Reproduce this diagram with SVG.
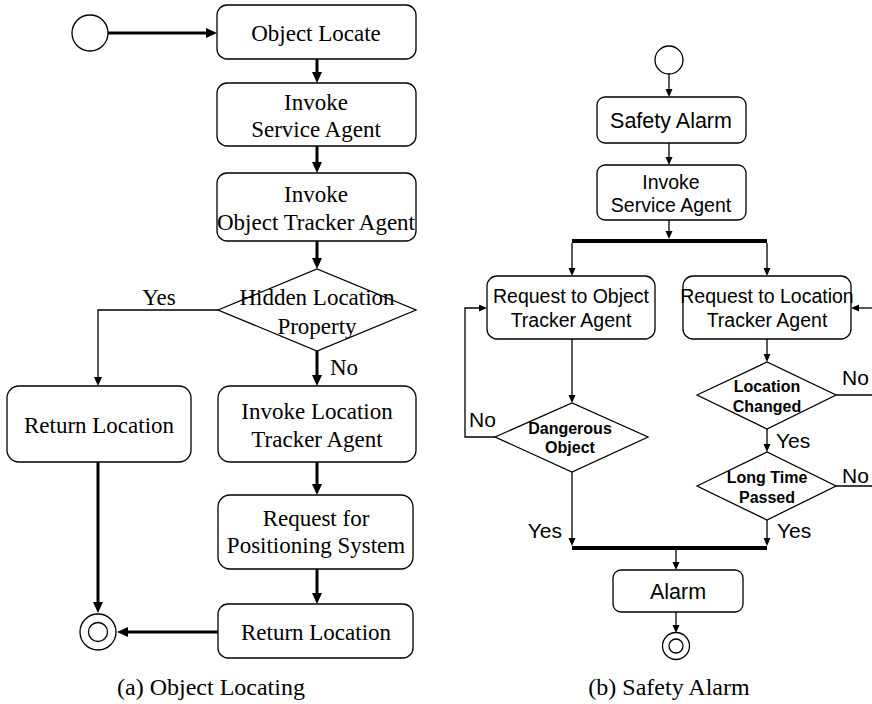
<svg xmlns="http://www.w3.org/2000/svg" width="872" height="704" viewBox="0 0 872 704">
<style>
.box{fill:#fff;stroke:#000;stroke-width:1.3}
.dia{fill:#fff;stroke:#000;stroke-width:1.3}
.thick{fill:none;stroke:#000;stroke-width:3}
.thin{fill:none;stroke:#000;stroke-width:1.3}
.bar{fill:none;stroke:#000;stroke-width:4}
.ts{font-family:"Liberation Serif","Times New Roman",serif;font-size:23px;fill:#000;text-anchor:middle}
.cap{font-family:"Liberation Serif","Times New Roman",serif;font-size:24px;fill:#000;text-anchor:middle}
.ta{font-family:"Liberation Sans",Arial,sans-serif;font-size:19.5px;fill:#000;text-anchor:middle}
.tb{font-family:"Liberation Sans",Arial,sans-serif;font-size:16px;font-weight:bold;fill:#000;text-anchor:middle}
.lab{font-family:"Liberation Sans",Arial,sans-serif;font-size:21px;fill:#000}
</style>
<defs>
<marker id="ah" markerUnits="userSpaceOnUse" markerWidth="12" markerHeight="10" refX="0" refY="5" orient="auto"><path d="M0,0 L11,5 L0,10 z" fill="#000"/></marker>
<marker id="as" markerUnits="userSpaceOnUse" markerWidth="10" markerHeight="8" refX="0" refY="4" orient="auto"><path d="M0,0 L9,4 L0,8 z" fill="#000"/></marker>
<marker id="ar" markerUnits="userSpaceOnUse" markerWidth="9" markerHeight="8" refX="0" refY="3.5" orient="auto"><path d="M0,0 L8,3.5 L0,7 z" fill="#000"/></marker>
</defs>
<rect width="872" height="704" fill="#fff"/>

<g id="connectors">
<!-- left diagram -->
<line class="thick" x1="108" y1="33" x2="206" y2="33" marker-end="url(#ah)"/>
<line class="thick" x1="317" y1="59" x2="317" y2="72" marker-end="url(#ah)"/>
<line class="thick" x1="317" y1="146" x2="317" y2="162" marker-end="url(#ah)"/>
<line class="thick" x1="317" y1="241" x2="317" y2="258" marker-end="url(#ah)"/>
<polyline class="thin" points="218,310 98,310 98,377" marker-end="url(#as)"/>
<line class="thick" x1="317" y1="351" x2="317" y2="375" marker-end="url(#ah)"/>
<line class="thick" x1="317" y1="462" x2="317" y2="484" marker-end="url(#ah)"/>
<line class="thick" x1="317" y1="569" x2="317" y2="593" marker-end="url(#ah)"/>
<line class="thick" x1="218" y1="632" x2="128" y2="632" marker-end="url(#ah)"/>
<line class="thick" x1="98" y1="462" x2="98" y2="602" marker-end="url(#ah)"/>
<!-- right diagram -->
<line class="thin" x1="669" y1="74" x2="669" y2="89" marker-end="url(#ar)"/>
<line class="thin" x1="669" y1="143" x2="669" y2="157" marker-end="url(#ar)"/>
<line class="thin" x1="669" y1="220" x2="669" y2="231" marker-end="url(#ar)"/>
<line class="bar" x1="572" y1="241" x2="767" y2="241"/>
<line class="thin" x1="572" y1="243" x2="572" y2="268" marker-end="url(#ar)"/>
<line class="thin" x1="767" y1="243" x2="767" y2="268" marker-end="url(#ar)"/>
<line class="thin" x1="572" y1="339" x2="572" y2="395" marker-end="url(#ar)"/>
<polyline class="thin" points="495,437 465,437 465,308 479,308" marker-end="url(#ar)"/>
<line class="thin" x1="872" y1="308" x2="859" y2="308" marker-end="url(#ar)"/>
<line class="thin" x1="767" y1="339" x2="767" y2="354" marker-end="url(#ar)"/>
<line class="thin" x1="836" y1="395" x2="872" y2="395"/>
<line class="thin" x1="767" y1="429" x2="767" y2="444" marker-end="url(#ar)"/>
<line class="thin" x1="836" y1="486" x2="872" y2="486"/>
<line class="thin" x1="767" y1="520" x2="767" y2="538" marker-end="url(#ar)"/>
<line class="thin" x1="572" y1="472" x2="572" y2="538" marker-end="url(#ar)"/>
<line class="bar" x1="572" y1="548" x2="767" y2="548"/>
<line class="thin" x1="676" y1="550" x2="676" y2="562" marker-end="url(#ar)"/>
<line class="thin" x1="676" y1="612" x2="676" y2="625" marker-end="url(#ar)"/>
</g>

<!-- left diagram nodes -->
<g id="a-start"><circle cx="90" cy="33" r="18" class="box"/></g>
<g id="a-object-locate"><rect x="217" y="5" width="199" height="54" rx="10" class="box"/><text class="ts" x="316" y="41">Object Locate</text></g>
<g id="a-invoke-service"><rect x="217" y="83" width="199" height="63" rx="10" class="box"/><text class="ts" x="316" y="110">Invoke</text><text class="ts" x="316" y="137">Service Agent</text></g>
<g id="a-invoke-object-tracker"><rect x="217" y="173" width="199" height="68" rx="10" class="box"/><text class="ts" x="316" y="202">Invoke</text><text class="ts" x="316" y="230">Object Tracker Agent</text></g>
<g id="a-hidden"><polygon points="218,310 317,269 416,310 317,351" class="dia"/><text class="ts" x="317" y="305">Hidden Location</text><text class="ts" x="317" y="334">Property</text></g>
<g id="a-yes"><text class="ts" x="159" y="305">Yes</text></g>
<g id="a-no"><text class="ts" x="344" y="375">No</text></g>
<g id="a-return-location-1"><rect x="7" y="386" width="184" height="76" rx="12" class="box"/><text class="ts" x="99" y="433">Return Location</text></g>
<g id="a-invoke-location"><rect x="218" y="386" width="198" height="76" rx="12" class="box"/><text class="ts" x="317" y="419">Invoke Location</text><text class="ts" x="317" y="447">Tracker Agent</text></g>
<g id="a-request-positioning"><rect x="218" y="495" width="195" height="74" rx="12" class="box"/><text class="ts" x="316" y="526">Request for</text><text class="ts" x="316" y="553">Positioning System</text></g>
<g id="a-return-location-2"><rect x="218" y="604" width="195" height="54" rx="10" class="box"/><text class="ts" x="316" y="640">Return Location</text></g>
<g id="a-end"><circle cx="98" cy="632" r="18" class="box"/><circle cx="98" cy="632" r="9.5" class="box"/></g>
<g id="a-caption"><text class="cap" x="211" y="695">(a) Object Locating</text></g>

<!-- right diagram nodes -->
<g id="b-start"><circle cx="669" cy="60" r="14" class="box"/></g>
<g id="b-safety-alarm"><rect x="597" y="97" width="149" height="46" rx="8" class="box"/><text class="ta" x="671" y="128" style="font-size:21.5px">Safety Alarm</text></g>
<g id="b-invoke-service"><rect x="597" y="165" width="149" height="55" rx="8" class="box"/><text class="ta" x="671" y="189">Invoke</text><text class="ta" x="671" y="212">Service Agent</text></g>
<g id="b-request-object"><rect x="487" y="276" width="168" height="63" rx="10" class="box"/><text class="ta" x="571" y="303">Request to Object</text><text class="ta" x="571" y="327">Tracker Agent</text></g>
<g id="b-request-location"><rect x="683" y="276" width="168" height="63" rx="10" class="box"/><text class="ta" x="767" y="303">Request to Location</text><text class="ta" x="767" y="327">Tracker Agent</text></g>
<g id="b-dangerous"><polygon points="495,437 572,403 648,437 572,472" class="dia"/><text class="tb" x="570" y="434">Dangerous</text><text class="tb" x="570" y="453">Object</text></g>
<g id="b-location-changed"><polygon points="697,395 767,362 836,395 767,429" class="dia"/><text class="tb" x="767" y="392">Location</text><text class="tb" x="767" y="412">Changed</text></g>
<g id="b-long-time"><polygon points="697,486 767,452 836,486 767,520" class="dia"/><text class="tb" x="767" y="483">Long Time</text><text class="tb" x="767" y="503">Passed</text></g>
<g id="b-labels">
<text class="lab" x="469" y="427">No</text>
<text class="lab" x="842" y="385">No</text>
<text class="lab" x="776" y="448">Yes</text>
<text class="lab" x="842" y="483">No</text>
<text class="lab" x="562" y="538" text-anchor="end">Yes</text>
<text class="lab" x="777" y="538">Yes</text>
</g>
<g id="b-alarm"><rect x="613" y="570" width="130" height="42" rx="8" class="box"/><text class="ta" x="678" y="599" style="font-size:21.5px">Alarm</text></g>
<g id="b-end"><circle cx="676" cy="646" r="13.5" class="box"/><circle cx="676" cy="646" r="7" class="box"/></g>
<g id="b-caption"><text class="cap" x="669" y="695">(b) Safety Alarm</text></g>
</svg>
